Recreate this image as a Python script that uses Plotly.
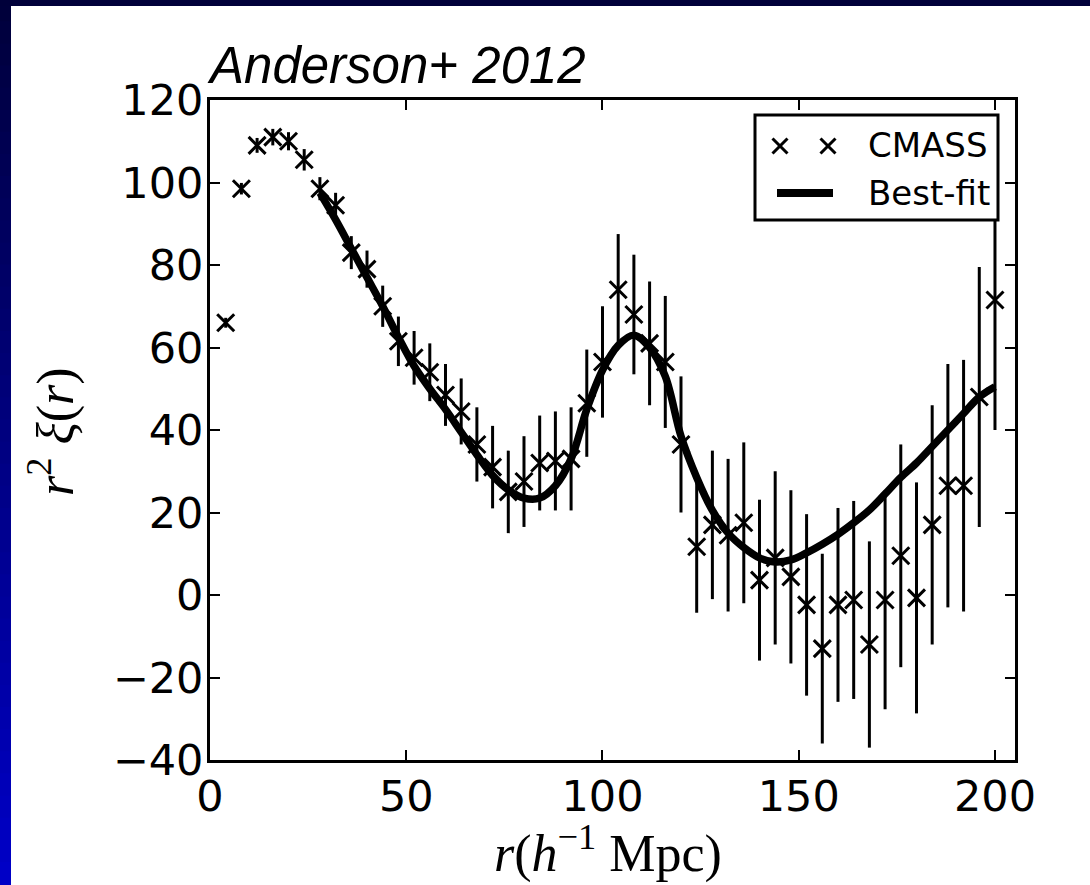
import plotly.graph_objects as go

# ---------------- data ----------------
r_data = [4, 8, 12, 16, 20, 24, 28, 32, 36, 40, 44, 48, 52, 56, 60, 64, 68, 72, 76, 80,
          84, 88, 92, 96, 100, 104, 108, 112, 116, 120, 124, 128, 132, 136, 140, 144, 148,
          152, 156, 160, 164, 168, 172, 176, 180, 184, 188, 192, 196, 200]
xi_data = [66, 98.5, 109, 111, 110, 105.5, 98.5, 94.5, 83, 79, 70, 61.5, 57.5, 54, 48.5,
           44.5, 36.5, 31, 25, 27.5, 32, 32.5, 33, 46.5, 56.5, 74, 68, 61, 56.5, 36.5,
           11.7, 17, 14.5, 17.5, 3.6, 9, 4.4, -2.4, -13, -2.4, -1.2, -12, -1.2, 9.5, -0.7,
           17, 26.5, 26.5, 48, 71.5]
xi_err = [1.2, 1.4, 1.8, 2, 2.2, 2.6, 2.8, 3, 4, 4.5, 5, 6, 6.5, 7, 7.5, 8, 9, 10, 10, 11,
          11.5, 12, 12.5, 13, 13.5, 13.5, 14.5, 15, 16, 16.5, 16, 18, 18.5, 19.5, 19.5, 21,
          21, 22, 23, 23.5, 24, 25, 26.5, 27, 28, 29, 29.5, 30.5, 31.5, 31.5]

r_fit = [28, 32, 36, 40, 44, 48, 52, 56, 60, 64, 68, 72, 76, 80, 84, 88, 92, 96, 100, 104,
         108, 112, 116, 120, 124, 128, 132, 136, 140, 144, 148, 152, 156, 160, 164, 168,
         172, 176, 180, 184, 188, 192, 196, 200]
xi_fit = [97.5, 91, 84, 77, 70, 62.5, 55.5, 50, 45, 39.5, 34, 29, 25.5, 23.5, 23.5, 26.5,
          33, 45, 54.5, 60.5, 63, 60, 53, 38.5, 28.5, 20.5, 15, 11.5, 9, 8, 8.5, 10.2, 12.3,
          14.7, 17.5, 20.6, 24.5, 28.5, 32, 36, 40, 44, 48, 50.5]

x_ticks = [0, 50, 100, 150, 200]
y_ticks = [-40, -20, 0, 20, 40, 60, 80, 100, 120]

# ---------------- layout geometry ----------------
W, H = 1090, 885
ML, MR, MT, MB = 210, 75, 100, 125
PW, PH = W - ML - MR, H - MT - MB


def px(xp):
    return (xp - ML) / PW


def py(yp):
    return (H - MB - yp) / PH


fig = go.Figure()

fig.add_trace(go.Scatter(
    x=r_fit, y=xi_fit, mode="lines",
    line=dict(color="black", width=7.5, shape="spline", smoothing=1.0),
    showlegend=False, hoverinfo="skip"))

fig.add_trace(go.Scatter(
    x=r_data, y=xi_data, mode="markers",
    marker=dict(symbol="x-thin", size=17, color="black",
                line=dict(color="black", width=3)),
    error_y=dict(type="data", array=xi_err, visible=True, color="black",
                 thickness=3, width=0),
    showlegend=False))

shapes = []
# slide background strips (top + left gradient)
nseg = 40
for i in range(nseg):
    y0p = i * H / nseg
    y1p = (i + 1) * H / nseg
    t = (i + 0.5) / nseg
    b = int(0x3a + (0xc8 - 0x3a) * t)
    shapes.append(dict(type="rect", xref="paper", yref="paper",
                       x0=px(-2), x1=px(11), y0=py(y1p + 2), y1=py(y0p - 1),
                       fillcolor="rgb(0,0,%d)" % b, line=dict(width=0), layer="above"))
shapes.append(dict(type="rect", xref="paper", yref="paper",
                   x0=px(-2), x1=px(W + 2), y0=py(6), y1=py(-2),
                   fillcolor="#00003a", line=dict(width=0), layer="above"))

# legend box
shapes.append(dict(type="rect", xref="paper", yref="paper",
                   x0=px(755), x1=px(998), y0=py(220), y1=py(115),
                   fillcolor="white", line=dict(color="black", width=3), layer="above"))
# legend x markers
for cx in (780, 828):
    cy, h = 146, 7.5
    shapes.append(dict(type="line", xref="paper", yref="paper",
                       x0=px(cx - h), x1=px(cx + h), y0=py(cy - h), y1=py(cy + h),
                       line=dict(color="black", width=3), layer="above"))
    shapes.append(dict(type="line", xref="paper", yref="paper",
                       x0=px(cx - h), x1=px(cx + h), y0=py(cy + h), y1=py(cy - h),
                       line=dict(color="black", width=3), layer="above"))
# legend line key
shapes.append(dict(type="line", xref="paper", yref="paper",
                   x0=px(777), x1=px(833), y0=py(193), y1=py(193),
                   line=dict(color="black", width=8), layer="above"))

serif = dict(family="Liberation Serif", size=52, color="black")
annotations = [
    dict(text="<i>Anderson+ 2012</i>", xref="paper", yref="paper", x=0, y=1,
         xanchor="left", yanchor="bottom", yshift=4, xshift=-5, showarrow=False,
         font=dict(family="Liberation Sans", size=51, color="black")),
    dict(text="CMASS", xref="paper", yref="paper", x=px(866), y=py(145),
         xanchor="left", yanchor="middle", showarrow=False,
         font=dict(family="DejaVu Sans", size=34, color="black")),
    dict(text="Best-fit", xref="paper", yref="paper", x=px(866), y=py(193),
         xanchor="left", yanchor="middle", showarrow=False,
         font=dict(family="DejaVu Sans", size=34, color="black")),
    # axis titles
    dict(text="<i>r</i>(<i>h</i><sup>−1</sup> Mpc)", xref="paper", yref="paper",
         x=px(608), y=py(850), xanchor="center", yanchor="middle",
         showarrow=False, font=serif),
    dict(text="<i>r</i><sup>2</sup> <i>ξ</i>(<i>r</i>)", xref="paper", yref="paper",
         x=px(52), y=py(432), xanchor="center", yanchor="middle", textangle=-90,
         showarrow=False, font=serif),
]

axis_common = dict(
    showline=True, linewidth=3, linecolor="black", mirror="ticks",
    ticks="inside", ticklen=10, tickwidth=2, tickcolor="black",
    showgrid=False, zeroline=False,
    tickfont=dict(family="DejaVu Sans", size=43, color="black"),
)

fig.update_layout(
    width=W, height=H, autosize=False,
    margin=dict(l=ML, r=MR, t=MT, b=MB, pad=0),
    paper_bgcolor="white", plot_bgcolor="white",
    xaxis=dict(range=[0, 205.1], tickvals=x_ticks, ticklabelstandoff=-4,
               **axis_common),
    yaxis=dict(range=[-40, 120], tickvals=y_ticks, ticklabelstandoff=-5,
               **axis_common),
    shapes=shapes, annotations=annotations, showlegend=False,
)

fig.write_html("out.html")
